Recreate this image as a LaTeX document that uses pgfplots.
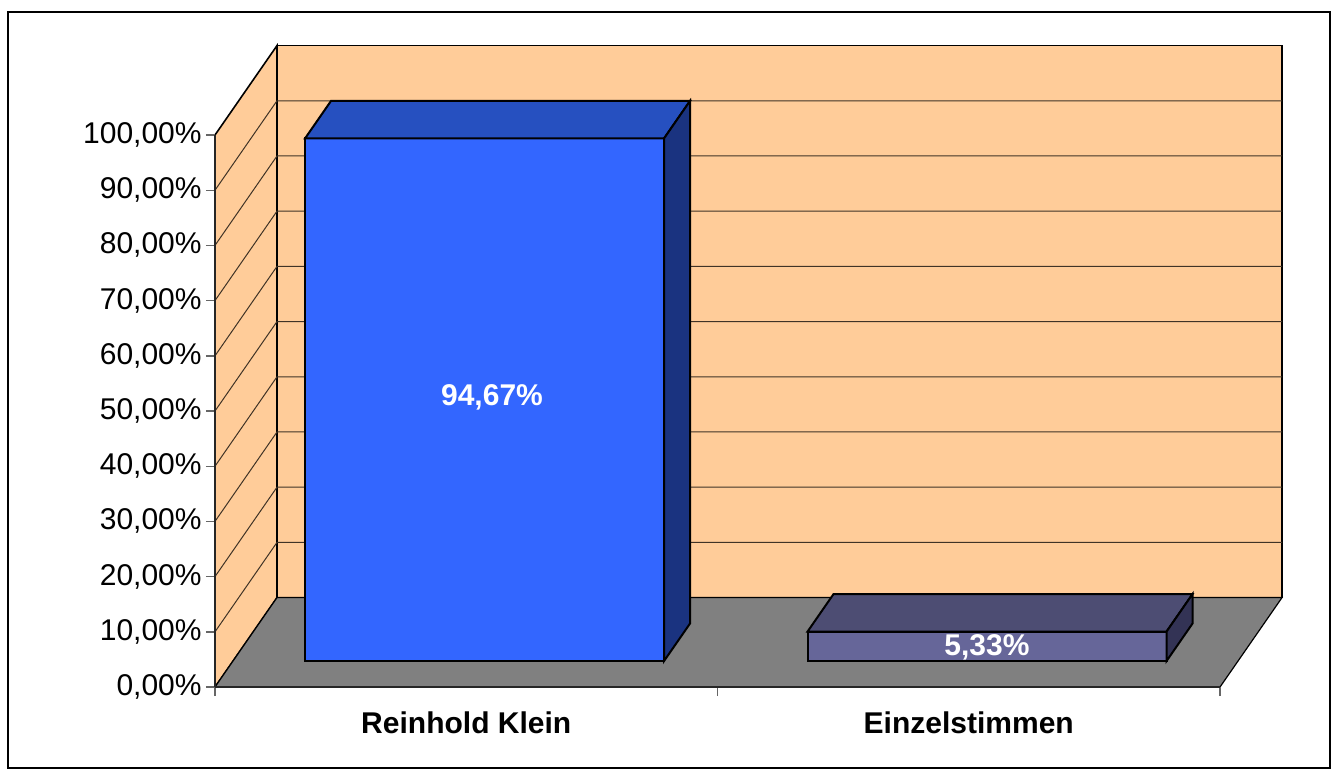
\documentclass[border=0pt]{standalone}
\usepackage{fontspec}
\setmainfont{Liberation Sans}
\usepackage{pgfplots}
\pgfplotsset{compat=1.18}
\definecolor{peach}{HTML}{FFCC99}
\definecolor{floorgray}{HTML}{808080}
\definecolor{bAfront}{HTML}{3366FF}
\definecolor{bAtop}{HTML}{2650C0}
\definecolor{bAside}{HTML}{1A3380}
\definecolor{bBfront}{HTML}{666699}
\definecolor{bBtop}{HTML}{4D4D73}
\definecolor{bBside}{HTML}{333355}
\begin{document}
\begin{tikzpicture}
\begin{axis}[
  x=0.5pt, y=2.76pt,
  xmin=0, xmax=1005, ymin=0, ymax=100,
  clip=false,
  axis on top,
  no markers,
  axis x line*=bottom, axis y line*=left,
  axis line style={draw=black!85, line width=1pt, -},
  xtick={0,502.5,1005}, xticklabels={},
  ytick={0,10,20,30,40,50,60,70,80,90,100},
  yticklabels={{0,00\%},{10,00\%},{20,00\%},{30,00\%},{40,00\%},{50,00\%},{60,00\%},{70,00\%},{80,00\%},{90,00\%},{100,00\%}},
  tick align=outside,
  major tick length=4.5pt,
  tick style={black!60, line width=0.7pt},
  yticklabel style={font=\fontsize{15}{18}\selectfont, inner sep=0pt, xshift=-2pt},
]
% back wall
\addplot[fill=peach, draw=black, line width=0.8pt] coordinates {(62,16.2) (1067,16.2) (1067,116.2) (62,116.2)} -- cycle;
% side wall
\addplot[fill=peach, draw=black, line width=0.8pt] coordinates {(0,0) (62,16.2) (62,116.2) (0,100)} -- cycle;
% floor
\addplot[fill=floorgray, draw=black, line width=0.6pt] coordinates {(0,0) (1005,0) (1067,16.2) (62,16.2)} -- cycle;
% grid lines
\addplot[draw=black!75!peach, line width=0.5pt] coordinates {(0,10) (62,26.2) (1067,26.2)};
\addplot[draw=black!75!peach, line width=0.5pt] coordinates {(0,20) (62,36.2) (1067,36.2)};
\addplot[draw=black!75!peach, line width=0.5pt] coordinates {(0,30) (62,46.2) (1067,46.2)};
\addplot[draw=black!75!peach, line width=0.5pt] coordinates {(0,40) (62,56.2) (1067,56.2)};
\addplot[draw=black!75!peach, line width=0.5pt] coordinates {(0,50) (62,66.2) (1067,66.2)};
\addplot[draw=black!75!peach, line width=0.5pt] coordinates {(0,60) (62,76.2) (1067,76.2)};
\addplot[draw=black!75!peach, line width=0.5pt] coordinates {(0,70) (62,86.2) (1067,86.2)};
\addplot[draw=black!75!peach, line width=0.5pt] coordinates {(0,80) (62,96.2) (1067,96.2)};
\addplot[draw=black!75!peach, line width=0.5pt] coordinates {(0,90) (62,106.2) (1067,106.2)};
% bar 1: Reinhold Klein 94.67
\addplot[fill=bAfront, draw=black, line width=1pt] coordinates {(90,4.7) (449,4.7) (449,99.37) (90,99.37)} -- cycle;
\addplot[fill=bAtop, draw=black, line width=1pt] coordinates {(90,99.37) (449,99.37) (475,106.17) (116,106.17)} -- cycle;
\addplot[fill=bAside, draw=black, line width=1pt] coordinates {(449,4.7) (475,11.5) (475,106.17) (449,99.37)} -- cycle;
% bar 2: Einzelstimmen 5.33
\addplot[fill=bBfront, draw=black, line width=1pt] coordinates {(592.5,4.7) (951.5,4.7) (951.5,10.03) (592.5,10.03)} -- cycle;
\addplot[fill=bBtop, draw=black, line width=1pt] coordinates {(592.5,10.03) (951.5,10.03) (977.5,16.83) (618.5,16.83)} -- cycle;
\addplot[fill=bBside, draw=black, line width=1pt] coordinates {(951.5,4.7) (977.5,11.5) (977.5,16.83) (951.5,10.03)} -- cycle;
% labels
\node[text=white, font=\bfseries\fontsize{15}{18}\selectfont] at (axis cs:277,52.4) {94,67\%};
\node[text=white, font=\bfseries\fontsize{15}{18}\selectfont] at (axis cs:772,7.25) {5,33\%};
\node[font=\bfseries\fontsize{15}{18}\selectfont] at (axis cs:251.25,-6.5) {Reinhold Klein};
\node[font=\bfseries\fontsize{15}{18}\selectfont] at (axis cs:753.75,-6.5) {Einzelstimmen};
% frame and bounding box
\draw[black, line width=0.7pt] (axis cs:-207,122.28) rectangle (axis cs:1115,-14.67);
\path (axis cs:-215,124.46) rectangle (axis cs:1123,-16.12);
\end{axis}
\end{tikzpicture}
\end{document}
